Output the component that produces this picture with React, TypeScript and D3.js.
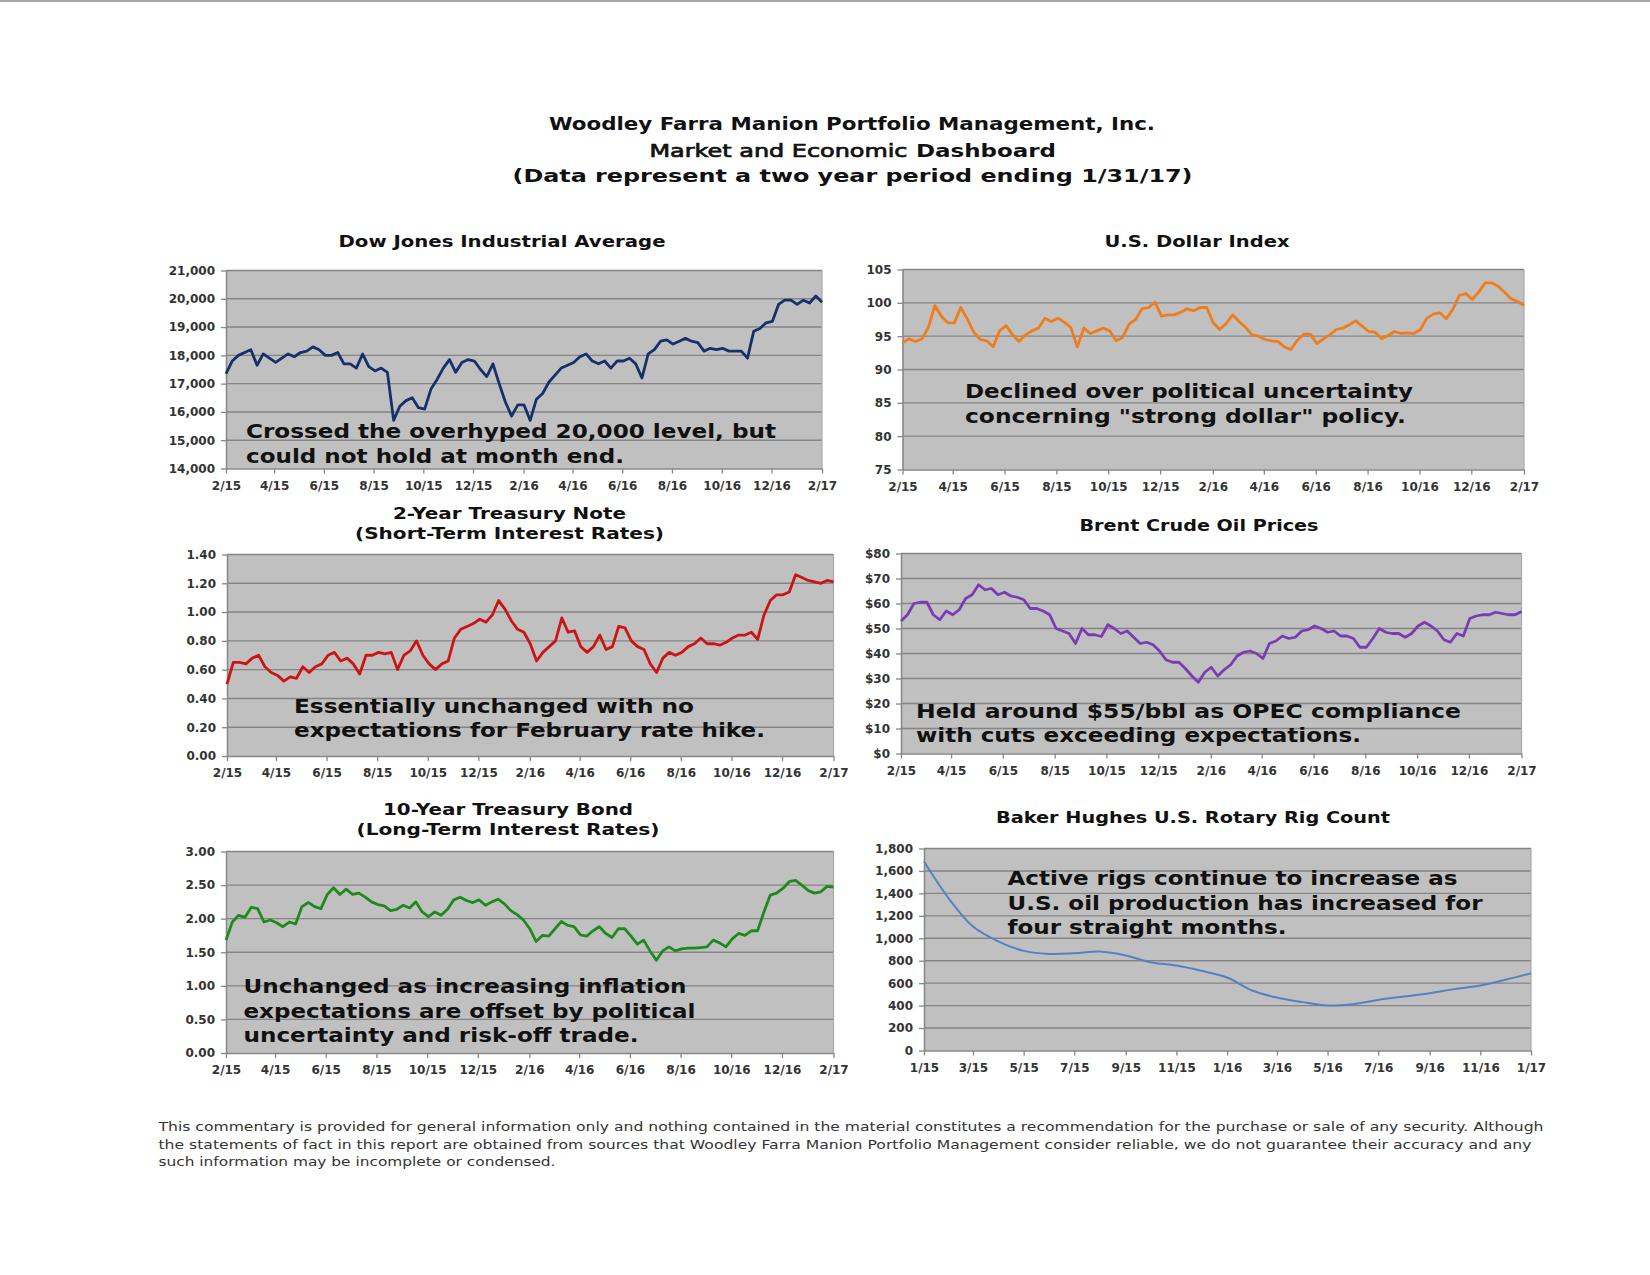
import React, { useRef, useEffect } from 'react';
import * as d3 from 'd3';

// quarter-month samples, 2/1/15 .. 1/31/17
const dowValues = [
  17350, 17800, 18000, 18100, 18200, 17650, 18050, 17900, 17750, 17900,
  18050, 17950, 18100, 18150, 18300, 18200, 18000, 18000, 18100, 17700,
  17700, 17550, 18050, 17600, 17450, 17550, 17400, 15700, 16200, 16400,
  16500, 16150, 16100, 16800, 17150, 17550, 17850, 17400, 17750, 17850,
  17800, 17500, 17250, 17700, 17000, 16350, 15850, 16250, 16250, 15700,
  16450, 16650, 17050, 17300, 17550, 17650, 17750, 17950, 18050, 17800,
  17700, 17800, 17550, 17800, 17800, 17900, 17700, 17200, 18050, 18200,
  18500, 18550, 18400, 18500, 18600, 18500, 18450, 18150, 18250, 18200,
  18250, 18150, 18150, 18150, 17900, 18850, 18950, 19150, 19200, 19800,
  19950, 19950, 19800, 19950, 19850, 20100, 19880,
];

const usdValues = [
  94.0, 94.6, 94.2, 94.6, 96.3, 99.6, 98.0, 97.0, 97.0, 99.3,
  97.6, 95.6, 94.5, 94.3, 93.4, 95.8, 96.6, 95.2, 94.2, 95.2,
  95.8, 96.2, 97.7, 97.2, 97.7, 97.1, 96.3, 93.4, 96.2, 95.4,
  95.8, 96.2, 95.8, 94.3, 94.8, 96.8, 97.5, 99.1, 99.3, 100.1,
  98.0, 98.2, 98.2, 98.6, 99.1, 98.8, 99.3, 99.3, 97.0, 96.0,
  96.9, 98.2, 97.2, 96.3, 95.2, 95.0, 94.5, 94.3, 94.2, 93.4,
  93.0, 94.4, 95.3, 95.3, 93.9, 94.6, 95.2, 96.0, 96.2, 96.7,
  97.3, 96.5, 95.7, 95.6, 94.6, 95.1, 95.7, 95.4, 95.5, 95.4,
  96.0, 97.7, 98.3, 98.5, 97.6, 99.0, 101.1, 101.4, 100.5, 101.6,
  103.0, 103.0, 102.5, 101.6, 100.6, 100.2, 99.6,
];

const twoYearValues = [
  0.50, 0.65, 0.65, 0.64, 0.68, 0.70, 0.62, 0.58, 0.56, 0.52,
  0.55, 0.54, 0.62, 0.58, 0.62, 0.64, 0.70, 0.72, 0.66, 0.68,
  0.64, 0.57, 0.70, 0.70, 0.72, 0.71, 0.72, 0.60, 0.70, 0.73,
  0.80, 0.70, 0.64, 0.60, 0.64, 0.66, 0.82, 0.88, 0.90, 0.92,
  0.95, 0.93, 0.98, 1.08, 1.02, 0.94, 0.88, 0.86, 0.78, 0.66,
  0.72, 0.76, 0.80, 0.96, 0.86, 0.87, 0.76, 0.72, 0.76, 0.84,
  0.74, 0.76, 0.90, 0.89, 0.80, 0.76, 0.74, 0.64, 0.58, 0.68,
  0.72, 0.70, 0.72, 0.76, 0.78, 0.82, 0.78, 0.78, 0.77, 0.79,
  0.82, 0.84, 0.84, 0.86, 0.81, 0.98, 1.08, 1.12, 1.12, 1.14,
  1.26, 1.24, 1.22, 1.21, 1.20, 1.22, 1.21,
];

const brentValues = [
  53, 55.5, 60, 60.5, 60.5, 55.5, 53.5, 57, 55.5, 57.5,
  62, 63.5, 67.5, 65.5, 66, 63.5, 64.5, 63, 62.5, 61.5,
  58, 58, 57, 55.5, 50, 49, 48, 44, 50, 47.5,
  47.5, 46.8, 51.5, 50, 48, 49, 46.5, 44, 44.5, 43.5,
  41, 37.5, 36.5, 36.5, 34, 31, 28.5, 32.5, 34.5, 31,
  33.5, 35.5, 39, 40.5, 41, 40, 38, 44, 45, 47,
  46, 46.5, 49, 49.5, 51, 50, 48.5, 49, 47, 47,
  46, 42.5, 42.5, 46, 50, 48.5, 48, 48, 46.5, 48,
  51, 52.5, 51, 49, 45.5, 44.5, 48, 47, 54, 55,
  55.5, 55.5, 56.5, 56, 55.5, 55.5, 56.8,
];

const tenYearValues = [
  1.68, 1.95, 2.05, 2.02, 2.17, 2.15, 1.95, 1.98, 1.94, 1.88,
  1.95, 1.92, 2.18, 2.24, 2.18, 2.15, 2.36, 2.46, 2.36, 2.44,
  2.36, 2.38, 2.32, 2.25, 2.21, 2.19, 2.12, 2.14, 2.20, 2.16,
  2.25, 2.10, 2.03, 2.10, 2.05, 2.14, 2.28, 2.32, 2.27, 2.24,
  2.28, 2.20, 2.25, 2.29, 2.22, 2.12, 2.06, 1.98, 1.85, 1.66,
  1.75, 1.74, 1.85, 1.96, 1.90, 1.88, 1.76, 1.74, 1.82, 1.88,
  1.78, 1.72, 1.85, 1.85, 1.74, 1.62, 1.68, 1.52, 1.38, 1.52,
  1.58, 1.52, 1.55, 1.56, 1.56, 1.57, 1.58, 1.68, 1.64, 1.58,
  1.70, 1.78, 1.75, 1.82, 1.82, 2.10, 2.35, 2.38, 2.45, 2.55,
  2.57, 2.50, 2.42, 2.38, 2.40, 2.48, 2.47,
];

// monthly, 1/15 .. 1/17
const rigValues = [
  1684, 1343, 1105, 971, 888, 861, 867, 882, 847, 787, 757, 710, 650,
  532, 472, 431, 401, 413, 451, 481, 511, 547, 579, 630, 689,
];

const titleLines = [
  'Woodley Farra Manion Portfolio Management, Inc.',
  'Market and Economic',
  'Dashboard',
  '(Data represent a two year period ending 1/31/17)',
];

const footerLines = [
  'This commentary is provided for general information only and nothing contained in the material constitutes a recommendation for the purchase or sale of any security. Although',
  'the statements of fact in this report are obtained from sources that Woodley Farra Manion Portfolio Management consider reliable, we do not guarantee their accuracy and any',
  'such information may be incomplete or condensed.',
];

const FONT = '"DejaVu Sans", Verdana, sans-serif';

const dailyStart = new Date(2015, 1, 1);
const dailyEnd = new Date(2017, 1, 1);
const rigStart = new Date(2015, 0, 1);
const rigEnd = new Date(2017, 0, 1);

interface Panel {
  box: [number, number, number, number]; // left, top, right, bottom
  values: number[];
  monthly?: boolean;
  yTicks: number[];
  yFormat: (d: number) => string;
  color: string;
  lineWidth: number;
  title: { text: string; x: number; y: number; w: number }[];
  notes: { text: string; x: number; y: number; w: number }[];
}

const panels: Panel[] = [
  {
    box: [226, 270.5, 822, 468.5],
    values: dowValues,
    yTicks: d3.range(14000, 21001, 1000),
    yFormat: d3.format(','),
    color: '#17306c',
    lineWidth: 2.8,
    title: [{ text: 'Dow Jones Industrial Average', x: 502, y: 247, w: 327 }],
    notes: [
      { text: 'Crossed the overhyped 20,000 level, but', x: 246, y: 438, w: 530 },
      { text: 'could not hold at month end.', x: 246, y: 462.5, w: 378 },
    ],
  },
  {
    box: [902.5, 269.5, 1524, 469.5],
    values: usdValues,
    yTicks: d3.range(75, 106, 5),
    yFormat: d3.format('d'),
    color: '#ef7d1c',
    lineWidth: 2.8,
    title: [{ text: 'U.S. Dollar Index', x: 1197, y: 247, w: 185 }],
    notes: [
      { text: 'Declined over political uncertainty', x: 965, y: 398, w: 448 },
      { text: 'concerning "strong dollar" policy.', x: 965, y: 423, w: 441 },
    ],
  },
  {
    box: [227, 554.5, 833.5, 756],
    values: twoYearValues,
    yTicks: d3.range(0, 1.41, 0.2),
    yFormat: d3.format('.2f'),
    color: '#cc1414',
    lineWidth: 2.8,
    title: [
      { text: '2-Year Treasury Note', x: 509.5, y: 519, w: 233 },
      { text: '(Short-Term Interest Rates)', x: 509.5, y: 539, w: 309 },
    ],
    notes: [
      { text: 'Essentially unchanged with no', x: 294, y: 713, w: 400 },
      { text: 'expectations for February rate hike.', x: 294, y: 737, w: 471 },
    ],
  },
  {
    box: [901, 553.5, 1521.5, 753.5],
    values: brentValues,
    yTicks: d3.range(0, 81, 10),
    yFormat: (d) => `$${d}`,
    color: '#7a3cb4',
    lineWidth: 2.8,
    title: [{ text: 'Brent Crude Oil Prices', x: 1199, y: 530.5, w: 239 }],
    notes: [
      { text: 'Held around $55/bbl as OPEC compliance', x: 916, y: 718, w: 545 },
      { text: 'with cuts exceeding expectations.', x: 916, y: 741.5, w: 445 },
    ],
  },
  {
    box: [226, 851.5, 833.5, 1053],
    values: tenYearValues,
    yTicks: d3.range(0, 3.01, 0.5),
    yFormat: d3.format('.2f'),
    color: '#1e8a1e',
    lineWidth: 2.8,
    title: [
      { text: '10-Year Treasury Bond', x: 508, y: 814.5, w: 250 },
      { text: '(Long-Term Interest Rates)', x: 508, y: 835, w: 303 },
    ],
    notes: [
      { text: 'Unchanged as increasing inflation', x: 243.5, y: 992.5, w: 443 },
      { text: 'expectations are offset by political', x: 243.5, y: 1018, w: 452 },
      { text: 'uncertainty and risk-off trade.', x: 243.5, y: 1042, w: 395 },
    ],
  },
  {
    box: [924, 848.5, 1531, 1050.5],
    values: rigValues,
    monthly: true,
    yTicks: d3.range(0, 1801, 200),
    yFormat: d3.format(','),
    color: '#5581c2',
    lineWidth: 2,
    title: [{ text: 'Baker Hughes U.S. Rotary Rig Count', x: 1193, y: 823, w: 394 }],
    notes: [
      { text: 'Active rigs continue to increase as', x: 1007.5, y: 885, w: 450 },
      { text: 'U.S. oil production has increased for', x: 1007.5, y: 910, w: 475 },
      { text: 'four straight months.', x: 1007.5, y: 934, w: 279 },
    ],
  },
];

function drawPanel(svg: d3.Selection<SVGSVGElement, unknown, null, undefined>, p: Panel) {
  const [left, top, right, bottom] = p.box;
  const start = p.monthly ? rigStart : dailyStart;
  const end = p.monthly ? rigEnd : dailyEnd;
  const x = d3.scaleTime().domain([start, end]).range([left, right]);
  const y = d3.scaleLinear().domain([p.yTicks[0], p.yTicks[p.yTicks.length - 1]]).range([bottom, top]);
  const n = p.values.length;
  const dates = p.values.map((_, i) =>
    p.monthly ? d3.timeMonth.offset(start, i) : new Date(+start + (i * (+end - +start)) / (n - 1))
  );

  const g = svg.append('g');
  g.append('rect')
    .attr('x', left).attr('y', top)
    .attr('width', right - left).attr('height', bottom - top)
    .attr('fill', '#c0c0c0');

  g.selectAll('line.grid')
    .data(p.yTicks.slice(1))
    .join('line')
    .attr('x1', left).attr('x2', right)
    .attr('y1', (d) => y(d)).attr('y2', (d) => y(d))
    .attr('stroke', '#858585').attr('stroke-width', 1.4);

  g.append('line')
    .attr('x1', right).attr('x2', right).attr('y1', top).attr('y2', bottom)
    .attr('stroke', '#a8a8a8').attr('stroke-width', 1.2);

  const xTicks = d3.timeMonth.range(start, d3.timeDay.offset(end, 1), 2);

  const yAxis = g.append('g')
    .attr('transform', `translate(${left},0)`)
    .call(d3.axisLeft(y).tickValues(p.yTicks).tickFormat((d) => p.yFormat(+d)).tickSize(5).tickSizeOuter(0).tickPadding(6));
  const xAxis = g.append('g')
    .attr('transform', `translate(0,${bottom})`)
    .call(d3.axisBottom(x).tickValues(xTicks).tickFormat((d) => d3.timeFormat('%-m/%y')(d as Date)).tickSize(5).tickSizeOuter(0).tickPadding(7.5));

  [yAxis, xAxis].forEach((a) => {
    a.attr('font-family', FONT).attr('font-size', 12).attr('font-weight', 'bold');
    a.select('.domain').attr('stroke', '#868686').attr('stroke-width', 1.5);
    a.selectAll('.tick line').attr('stroke', '#868686').attr('stroke-width', 1.3);
    a.selectAll('.tick text').attr('fill', '#333');
  });

  const line = d3.line<number>()
    .x((_, i) => x(dates[i]))
    .y((d) => y(d))
    .curve(p.monthly ? d3.curveCatmullRom.alpha(0.5) : d3.curveLinear);

  g.append('path')
    .datum(p.values)
    .attr('fill', 'none')
    .attr('stroke', p.color)
    .attr('stroke-width', p.lineWidth)
    .attr('stroke-linejoin', 'round')
    .attr('d', line);

  g.selectAll('text.title')
    .data(p.title)
    .join('text')
    .attr('x', (d) => d.x).attr('y', (d) => d.y)
    .attr('text-anchor', 'middle')
    .attr('font-family', FONT).attr('font-size', 16).attr('font-weight', 'bold')
    .attr('fill', '#111')
    .attr('textLength', (d) => d.w).attr('lengthAdjust', 'spacingAndGlyphs')
    .text((d) => d.text);

  g.selectAll('text.note')
    .data(p.notes)
    .join('text')
    .attr('x', (d) => d.x).attr('y', (d) => d.y)
    .attr('font-family', FONT).attr('font-size', 20).attr('font-weight', 'bold')
    .attr('fill', '#111')
    .attr('textLength', (d) => d.w).attr('lengthAdjust', 'spacingAndGlyphs')
    .text((d) => d.text);
}

const App: React.FC = () => {
  const ref = useRef<SVGSVGElement>(null);

  useEffect(() => {
    const svg = d3.select(ref.current!);
    svg.selectAll('*').remove();

    svg.append('rect').attr('width', 1650).attr('height', 1275).attr('fill', '#fff');
    svg.append('line')
      .attr('x1', 0).attr('x2', 1650).attr('y1', 1).attr('y2', 1)
      .attr('stroke', '#a6a6a6').attr('stroke-width', 2);

    const head = svg.append('g').attr('font-family', FONT).attr('fill', '#111');
    head.append('text')
      .attr('x', 852).attr('y', 129.5).attr('text-anchor', 'middle')
      .attr('font-size', 18).attr('font-weight', 'bold')
      .attr('textLength', 606).attr('lengthAdjust', 'spacingAndGlyphs')
      .text(titleLines[0]);
    head.append('text')
      .attr('x', 649.5).attr('y', 156.5)
      .attr('font-size', 18).attr('stroke', '#111').attr('stroke-width', 0.7)
      .attr('textLength', 258).attr('lengthAdjust', 'spacingAndGlyphs')
      .text(titleLines[1]);
    head.append('text')
      .attr('x', 916).attr('y', 156.5)
      .attr('font-size', 18).attr('font-weight', 'bold')
      .attr('textLength', 140).attr('lengthAdjust', 'spacingAndGlyphs')
      .text(titleLines[2]);
    head.append('text')
      .attr('x', 852.5).attr('y', 182).attr('text-anchor', 'middle')
      .attr('font-size', 18).attr('font-weight', 'bold')
      .attr('textLength', 680).attr('lengthAdjust', 'spacingAndGlyphs')
      .text(titleLines[3]);

    panels.forEach((p) => drawPanel(svg, p));

    const footWidths = [1385, 1373, 397];
    svg.append('g')
      .selectAll('text')
      .data(footerLines)
      .join('text')
      .attr('x', 158.5)
      .attr('y', (_, i) => 1131 + i * 17.5)
      .attr('font-family', FONT).attr('font-size', 13)
      .attr('fill', '#333')
      .attr('textLength', (_, i) => footWidths[i]).attr('lengthAdjust', 'spacingAndGlyphs')
      .text((d) => d);
  }, []);

  return (
    <svg
      ref={ref}
      width={1650}
      height={1275}
      style={{ position: 'absolute', left: 0, top: 0, display: 'block' }}
    />
  );
};

export default App;
